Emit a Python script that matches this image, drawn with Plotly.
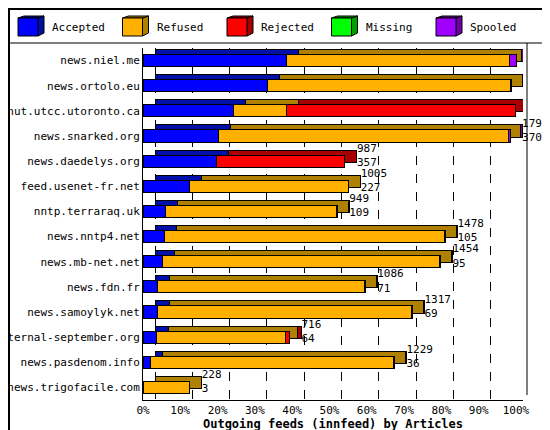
import plotly.graph_objects as go

hosts = ["news.niel.me","news.ortolo.eu","nut.utcc.utoronto.ca","news.snarked.org","news.daedelys.org",
         "feed.usenet-fr.net","nntp.terraraq.uk","news.nntp4.net","news.mb-net.net","news.fdn.fr",
         "news.samoylyk.net","eternal-september.org","news.pasdenom.info","news.trigofacile.com"]
offered  = [1823,1801,1820,1794,987,1005,949,1478,1454,1086,1317,716,1229,228]
accepted = [701,610,442,370,357,227,109,105,95,71,69,64,36,3]
refused  = [1092,1186,259,1416,0,775,836,1368,1354,1010,1243,632,1188,225]
rejected = [0,5,1119,0,630,3,4,5,0,0,5,20,5,0]
missing  = [0,0,0,0,0,0,0,0,0,0,0,0,0,0]
spooled  = [30,0,0,8,0,0,0,0,5,5,0,0,0,0]
ticks = ["0%","10%","20%","30%","40%","50%","60%","70%","80%","90%","100%"]

names = ["Accepted","Refused","Rejected","Missing","Spooled"]
series = [accepted, refused, rejected, missing, spooled]
front = ["#0000ff","#ffb000","#ff0000","#00ff00","#a000ff"]
dark = ["#0010a8","#b08000","#a80000","#00a000","#7000a8"]

W, H = 550, 430
L, R, T, B = 135, 35, 40, 38
pw, ph = W-L-R, H-T-B
xmax = max(offered)*pw/373
px_per = pw/xmax
dxa = 12/px_per
n = len(hosts)
rowpx = ph/n
dyr = 5/rowpx
ypos = list(range(n))

fig = go.Figure()
# invisible trace to anchor base axes
fig.add_scatter(x=[0], y=[0], mode="markers", marker=dict(opacity=0), showlegend=False, hoverinfo="skip")
for nm, s, c in zip(names, series, dark):
    fig.add_bar(y=ypos, x=s, orientation="h", marker=dict(color=c, line=dict(color="black", width=1)),
                xaxis="x2", yaxis="y2", showlegend=False, width=0.48, hoverinfo="skip")
for nm, s, c in zip(names, series, front):
    fig.add_bar(y=ypos, x=s, orientation="h", name=nm, xaxis="x3", yaxis="y3", showlegend=False,
                marker=dict(color=c, line=dict(color="black", width=1)), width=0.48)
fig.add_scatter(x=offered, y=ypos, xaxis="x2", yaxis="y2", mode="text",
                text=[f"{o}<br>{a}" for o, a in zip(offered, accepted)],
                textposition="middle right", textfont=dict(size=11, color="black"),
                showlegend=False, hoverinfo="skip", cliponaxis=False)

tv = [max(offered)*k/10 for k in range(11)]
fig.update_layout(
    width=W, height=H, margin=dict(l=L, r=R, t=T, b=B, autoexpand=False), barmode="stack",
    paper_bgcolor="white", plot_bgcolor="white", showlegend=False,
    font=dict(family="DejaVu Sans Mono", size=11, color="black"),
    xaxis=dict(range=[0, xmax], tickvals=tv, ticktext=ticks, showgrid=False, zeroline=False,
               showline=True, linecolor="black", ticks="", 
               title=dict(text="<b>Outgoing feeds (innfeed) by Articles</b>", standoff=2, font=dict(size=12))),
    xaxis2=dict(range=[-dxa, xmax-dxa], overlaying="x", tickvals=tv, showticklabels=False,
                showgrid=True, gridcolor="black", griddash="dash", gridwidth=1, zeroline=False),
    xaxis3=dict(range=[0, xmax], overlaying="x", showticklabels=False, showgrid=False, zeroline=False),
    yaxis=dict(range=[n-0.5, -0.5], tickvals=ypos, ticktext=hosts, showgrid=False, zeroline=False,
               showline=True, linecolor="black", ticks=""),
    yaxis2=dict(range=[n-0.5+dyr, -0.5+dyr], overlaying="y", showticklabels=False, showgrid=False, zeroline=False),
    yaxis3=dict(range=[n-0.5, -0.5], overlaying="y", showticklabels=False, showgrid=False, zeroline=False),
)
def px2x(p): return (p-L)/pw
def py2y(p): return 1-(p-T)/ph
# border and separator
fig.add_shape(type="rect", xref="paper", yref="paper", x0=px2x(1), x1=px2x(W-1),
              y0=py2y(H-1), y1=py2y(1), line=dict(color="black", width=2))
fig.add_shape(type="line", xref="paper", yref="paper", x0=px2x(1), x1=px2x(W-1),
              y0=py2y(35), y1=py2y(35), line=dict(color="black", width=1))
# back right wall line
fig.add_shape(type="line", xref="paper", yref="paper", x0=px2x(519), x1=px2x(519),
              y0=py2y(387), y1=py2y(35), line=dict(color="black", width=1))
# manual legend
for i, (nm, fc, dc) in enumerate(zip(names, front, dark)):
    x0 = 10 + i*104.5
    fig.add_shape(type="path", xref="paper", yref="paper",
                  path=f"M {px2x(x0+20)} {py2y(28)} L {px2x(x0+26)} {py2y(25)} L {px2x(x0+26)} {py2y(8)} L {px2x(x0+20)} {py2y(10)} Z",
                  fillcolor=dc, line=dict(color="black", width=1))
    fig.add_shape(type="path", xref="paper", yref="paper",
                  path=f"M {px2x(x0)} {py2y(10)} L {px2x(x0+6)} {py2y(8)} L {px2x(x0+26)} {py2y(8)} L {px2x(x0+20)} {py2y(10)} Z",
                  fillcolor=dc, line=dict(color="black", width=1))
    fig.add_shape(type="rect", xref="paper", yref="paper", x0=px2x(x0), x1=px2x(x0+20),
                  y0=py2y(28), y1=py2y(10), fillcolor=fc, line=dict(color="black", width=1))
    fig.add_annotation(xref="paper", yref="paper", x=px2x(x0+32), y=py2y(19), text=nm,
                       showarrow=False, xanchor="left", yanchor="middle", font=dict(size=11))
fig.write_html("out.html")
